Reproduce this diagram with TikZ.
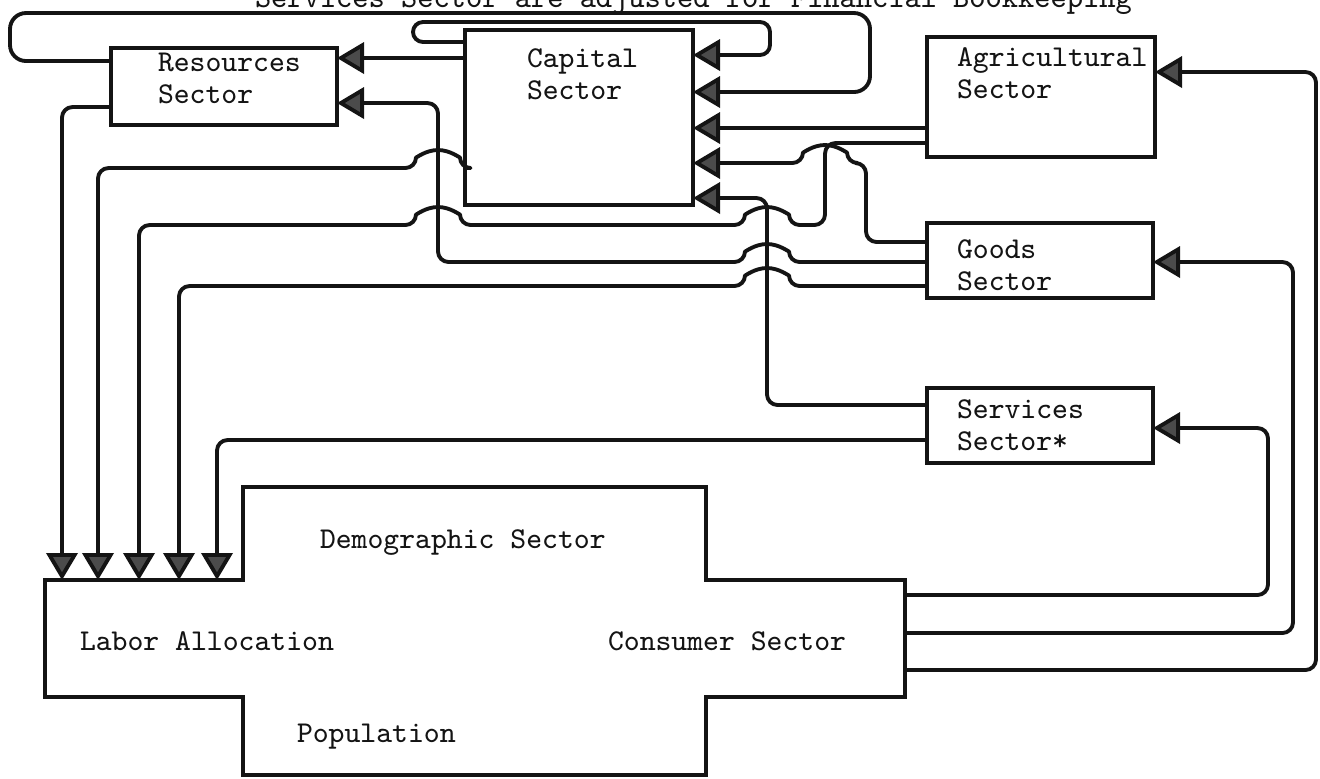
\documentclass[tikz,border=0pt]{standalone}
\usepackage{fontspec}
\usetikzlibrary{arrows.meta}
\definecolor{DiagInk}{RGB}{20,20,20}
\definecolor{DiagTip}{RGB}{75,75,75}

\begin{document}
\begin{tikzpicture}[
x=1cm,
y=1cm,
every node/.style={font=\fontsize{8.6}{9.1}\selectfont\ttfamily,text=DiagInk,outer sep=0pt},
sectorbox/.style={draw=DiagInk,line width=1.1pt,anchor=north west,inner sep=0pt},
sectortext/.style={anchor=west,align=left,inner sep=0pt},
crosstext/.style={anchor=west,inner sep=0pt},
flow/.style={-{Triangle[length=2.7mm,width=3.1mm,fill=DiagTip]},line width=1.1pt,draw=DiagInk,rounded corners=3pt,line join=round}
]

\path[use as bounding box] (0,-7.78) rectangle (13.20,0);

% note line, cut at the top edge
\node[anchor=base west,inner sep=0pt,font=\fontsize{8.8}{9.1}\selectfont\ttfamily] (notetxt) at (2.55,-0.07) {Services Sector are adjusted for Financial Bookkeeping};

% sector boxes
\node[sectorbox,minimum width=2.26cm,minimum height=0.77cm] (res) at (1.11,-0.48) {};
\node[sectorbox,minimum width=2.28cm,minimum height=1.75cm] (cap) at (4.65,-0.30) {};
\node[sectorbox,minimum width=2.28cm,minimum height=1.20cm] (agr) at (9.27,-0.37) {};
\node[sectorbox,minimum width=2.26cm,minimum height=0.75cm] (goods) at (9.27,-2.23) {};
\node[sectorbox,minimum width=2.26cm,minimum height=0.75cm] (serv) at (9.27,-3.88) {};

\node[sectortext] (restxt) at (1.58,-0.78) {Resources\\Sector};
\node[sectortext] (captxt) at (5.27,-0.745) {Capital\\Sector};
\node[sectortext] (agrtxt) at (9.57,-0.735) {Agricultural\\Sector};
\node[sectortext] (goodstxt) at (9.57,-2.65) {Goods\\Sector};
\node[sectortext] (servtxt) at (9.57,-4.255) {Services\\Sector*};

% demographic block
\draw[line width=1.1pt,draw=DiagInk] (2.43,-4.87) -- (7.06,-4.87) -- (7.06,-5.80) -- (9.05,-5.80) -- (9.05,-6.97) -- (7.06,-6.97) -- (7.06,-7.75) -- (2.43,-7.75) -- (2.43,-6.97) -- (0.45,-6.97) -- (0.45,-5.80) -- (2.43,-5.80) -- cycle;

\node[crosstext] (demotxt) at (3.20,-5.43) {Demographic Sector};
\node[crosstext] (labortxt) at (0.80,-6.41) {Labor Allocation};
\node[crosstext] (constxt) at (6.08,-6.41) {Consumer Sector};
\node[crosstext] (poptxt) at (2.97,-7.37) {Population};

\coordinate (lab1) at (0.62,-5.80);
\coordinate (lab2) at (0.98,-5.80);
\coordinate (lab3) at (1.39,-5.80);
\coordinate (lab4) at (1.79,-5.80);
\coordinate (lab5) at (2.17,-5.80);

\coordinate (con1) at (9.05,-5.95);
\coordinate (con2) at (9.05,-6.33);
\coordinate (con3) at (9.05,-6.70);

\coordinate (capin1) at ([yshift=-0.25cm]cap.north east);
\coordinate (capin2) at ([yshift=-0.62cm]cap.north east);
\coordinate (capin3) at ([yshift=-0.98cm]cap.north east);
\coordinate (capin4) at ([yshift=-1.33cm]cap.north east);
\coordinate (capin5) at ([yshift=-1.68cm]cap.north east);

% into capital
\draw[flow,rounded corners=0.1cm] ([yshift=-0.12cm]cap.north west) -| (4.13,-0.22) -| (7.70,-0.55) -- (capin1);
\draw[flow,rounded corners=0.16cm] ([yshift=-0.13cm]res.north west) -| (0.10,-0.13) -| (8.70,-0.92) -- (capin2);
\draw[flow] ([yshift=-0.91cm]agr.north west) -- (capin3);
\draw[flow] ([yshift=-0.19cm]goods.north west) -| (8.66,-1.63) -- (8.47,-1.63) arc[start angle=0,end angle=180,x radius=0.22,y radius=0.18] -- (capin4);
\draw[flow] ([yshift=-0.17cm]serv.north west) -| (7.67,-1.98) -- (capin5);

% into resources
\draw[flow] ([yshift=-0.28cm]cap.north west) -- ([yshift=-0.10cm]res.north east);
\draw[flow] ([yshift=-0.39cm]goods.north west) -- (7.89,-2.62) arc[start angle=0,end angle=180,x radius=0.22,y radius=0.18] -- (4.38,-2.62) |- ([yshift=-0.55cm]res.north east);

% into labor allocation
\draw[flow] ([yshift=-0.59cm]res.north west) -| (lab1);
\draw[flow] ([yshift=-1.38cm]cap.north west) -- (4.60,-1.68) arc[start angle=0,end angle=180,x radius=0.22,y radius=0.18] -| (lab2);
\draw[flow] ([yshift=-1.06cm]agr.north west) -| (8.25,-2.25) -- (7.89,-2.25) arc[start angle=0,end angle=180,x radius=0.22,y radius=0.18] -- (4.60,-2.25) arc[start angle=0,end angle=180,x radius=0.22,y radius=0.18] -| (lab3);
\draw[flow] ([yshift=-0.63cm]goods.north west) -- (7.89,-2.86) arc[start angle=0,end angle=180,x radius=0.22,y radius=0.18] -| (lab4);
\draw[flow] ([yshift=-0.52cm]serv.north west) -| (lab5);

% consumer back to producers
\draw[flow] (con1) -| (12.68,-4.28) -- ([yshift=-0.40cm]serv.north east);
\draw[flow] (con2) -| (12.93,-2.62) -- ([yshift=-0.39cm]goods.north east);
\draw[flow] (con3) -| (13.16,-0.72) -- ([yshift=-0.35cm]agr.north east);

\end{tikzpicture}
\end{document}
